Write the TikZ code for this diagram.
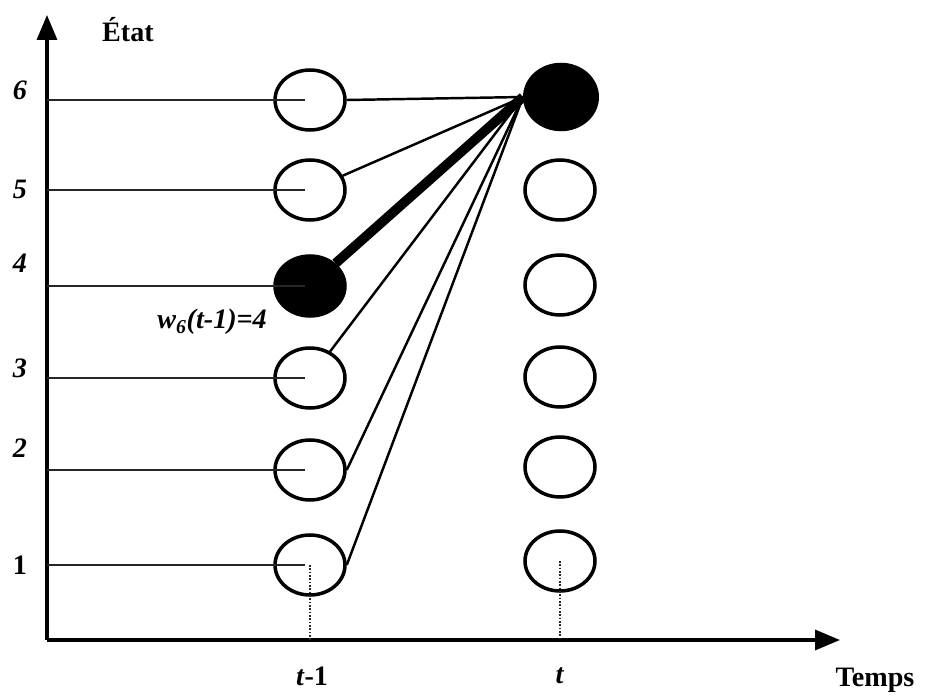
\documentclass[tikz,border=0pt]{standalone}
\usepackage{fontspec}
\setmainfont{Liberation Serif}
\usetikzlibrary{calc,arrows.meta,shapes.geometric}

\begin{document}
\begin{tikzpicture}[x=0.02cm,y=-0.02cm]
        \tikzstyle {etat} = [ellipse, minimum width=1.4cm, minimum height=1.2cm, draw=black, line width=2pt, inner sep=0pt]
        \tikzstyle {etatactif} = [etat, fill=black]
        \tikzstyle {lien} = [line width=1.4pt]
        \tikzstyle {repere} = [line width=0.9pt, black!85]
        \tikzstyle {axe} = [line width=1.9pt, -{Triangle[length=0.5cm,width=0.4cm]}]
        \tikzstyle {texte} = [font=\fontsize{16}{18}\selectfont\bfseries, inner sep=0pt]
        \useasboundingbox (0,0) rectangle (931,696);
        % Axes
        \coordinate (origine) at (47,640);
        \draw[axe] (origine) -- (47,15);
        \draw[axe] (origine) -- (840,640);
        \node (etat) [texte] at (128,30) {État};
        \node (temps) [texte] at (875,680) {Temps};
        % Instant t-1
        \node (l6) [etat] at (310,100) {};
        \node (l5) [etat] at (310,190) {};
        \node (l4) [etatactif] at (310,286) {};
        \node (l3) [etat] at (310,378) {};
        \node (l2) [etat] at (310,470) {};
        \node (l1) [etat] at (310,565) {};
        % Instant t
        \node (r6) [etatactif, minimum width=1.45cm, minimum height=1.3cm] at (561,97) {};
        \node (r5) [etat] at (560,190) {};
        \node (r4) [etat] at (560,285) {};
        \node (r3) [etat] at (560,377) {};
        \node (r2) [etat] at (560,467) {};
        \node (r1) [etat] at (560,561) {};
        % Numéros des états
        \node (n6) [texte] at (20,90) {\textit{6}};
        \node (n5) [texte] at (20,189) {\textit{5}};
        \node (n4) [texte] at (20,263) {\textit{4}};
        \node (n3) [texte] at (20,368) {\textit{3}};
        \node (n2) [texte] at (20,448) {\textit{2}};
        \node (n1) [texte] at (20,565) {1};
        \foreach \i in {1,...,6}
            \draw[repere] (origine |- l\i.center) -- ($(l\i.center)+(-5,0)$);
        % Transitions vers l'état 6
        \draw[lien] (l6.east) -- (r6.west);
        \draw[lien] (l5) -- (r6.west);
        \draw[line width=5.5pt] (l4) -- (r6.west);
        \draw[lien] (l3) -- (r6.west);
        \draw[lien] (l2.east) -- (r6.west);
        \draw[lien] (l1.east) -- (r6.west);
        \node (poids) [texte] at (212,322) {\textit{w\textsubscript{6}(t-1)=4}};
        % Instants
        \draw[repere, densely dotted, line width=1.2pt] (l1.center) -- (l1.center |- origine);
        \draw[repere, densely dotted, line width=1.2pt] (r1.center) -- (r1.center |- origine);
        \node (tmoins) [texte] at (312,676) {\textit{t}-1};
        \node (tcour) [texte] at (560,676) {\textit{t}};
    \end{tikzpicture}
\end{document}
